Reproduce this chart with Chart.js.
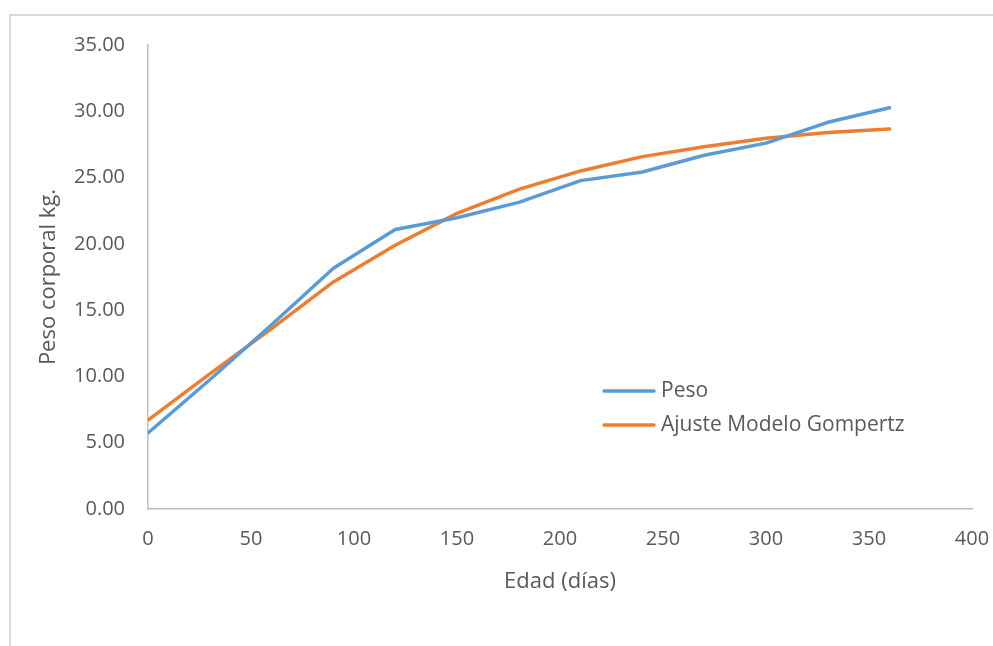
<!DOCTYPE html>
<html>
<head>
<meta charset="utf-8">
<script src="https://cdn.jsdelivr.net/npm/chart.js@4.4.1/dist/chart.umd.min.js"></script>
<style>
  html, body { margin: 0; padding: 0; background: #fff; overflow: hidden; }
  #marco { position: absolute; left: 9px; top: 14px; width: 1100px; height: 700px; border: 2px solid #d9d9d9; }
  #contenedor { position: absolute; left: 0; top: 0; width: 993px; height: 646px; }
</style>
</head>
<body>
<div id="marco"></div>
<div id="contenedor"><canvas id="myChart" width="993" height="646"></canvas></div>
<script>
// Datos
const edades = [0, 30, 60, 90, 120, 150, 180, 210, 240, 270, 300, 330, 360];
const peso = [5.73, 9.75, 13.9, 18.16, 21.08, 21.97, 23.13, 24.77, 25.42, 26.68, 27.6, 29.17, 30.27];
const gompertz = [6.7, 10.2, 13.6, 17.13, 19.9, 22.3, 24.11, 25.5, 26.58, 27.33, 27.96, 28.4, 28.66];
const etiquetasSeries = ['Peso', 'Ajuste Modelo Gompertz'];
const colores = ['#5B9BD5', '#ED7D31'];

const ctx = document.getElementById('myChart').getContext('2d');
const fuente = "'Open Sans', 'Noto Sans', sans-serif";
const gris = '#595959';

// leyenda dibujada dentro del area del grafico
const leyendaInterna = {
    id: 'leyendaInterna',
    afterDraw(chart) {
        const c = chart.ctx;
        const filas = [391, 425];
        c.save();
        chart.data.datasets.forEach((ds, i) => {
            c.strokeStyle = ds.borderColor;
            c.lineWidth = 3.5;
            c.lineCap = 'round';
            c.beginPath();
            c.moveTo(604, filas[i]);
            c.lineTo(654, filas[i]);
            c.stroke();
            c.fillStyle = gris;
            c.font = "21px " + fuente;
            c.textBaseline = 'middle';
            c.fillText(ds.label, 661, filas[i]);
        });
        c.restore();
    }
};

const toPuntos = serie => serie.map((v, i) => ({ x: edades[i], y: v }));

const myChart = new Chart(ctx, {
    type: 'line',
    data: {
        datasets: [
            {
                label: etiquetasSeries[0],
                data: toPuntos(peso),
                borderColor: colores[0],
                borderWidth: 3.5,
                pointRadius: 0,
                borderCapStyle: 'round',
                borderJoinStyle: 'round',
                tension: 0
            },
            {
                label: etiquetasSeries[1],
                data: toPuntos(gompertz),
                borderColor: colores[1],
                borderWidth: 3.5,
                pointRadius: 0,
                borderCapStyle: 'round',
                borderJoinStyle: 'round',
                tension: 0
            }
        ]
    },
    options: {
        responsive: false,
        animation: false,
        layout: { padding: { top: 45, right: 21, bottom: 20, left: 0 } },
        plugins: {
            legend: { display: false },
            tooltip: { enabled: false }
        },
        scales: {
            x: {
                type: 'linear',
                min: 0,
                max: 400,
                afterFit: s => { s.height = 117; s.paddingRight = 0; s.paddingLeft = 0; },
                ticks: { stepSize: 50, padding: 18, color: gris, font: { family: fuente, size: 20 } },
                grid: { display: false, drawTicks: false },
                border: { display: true, color: '#bfbfbf', width: 1.5 },
                title: { display: true, text: 'Edad (días)', color: gris, font: { family: fuente, size: 22 }, padding: { top: 0, bottom: 31 } }
            },
            y: {
                min: 0,
                max: 35,
                afterFit: s => { s.width = 148; s.paddingTop = 0; s.paddingBottom = 0; },
                ticks: { stepSize: 5, padding: 23, color: gris, font: { family: fuente, size: 20 }, callback: v => v.toFixed(2) },
                grid: { display: false, drawTicks: false },
                border: { display: true, color: '#bfbfbf', width: 1.5 },
                title: { display: true, text: 'Peso corporal kg.', color: gris, font: { family: fuente, size: 22 }, padding: { top: 36, bottom: 0 } }
            }
        }
    },
    plugins: [leyendaInterna]
});
</script>
</body>
</html>
